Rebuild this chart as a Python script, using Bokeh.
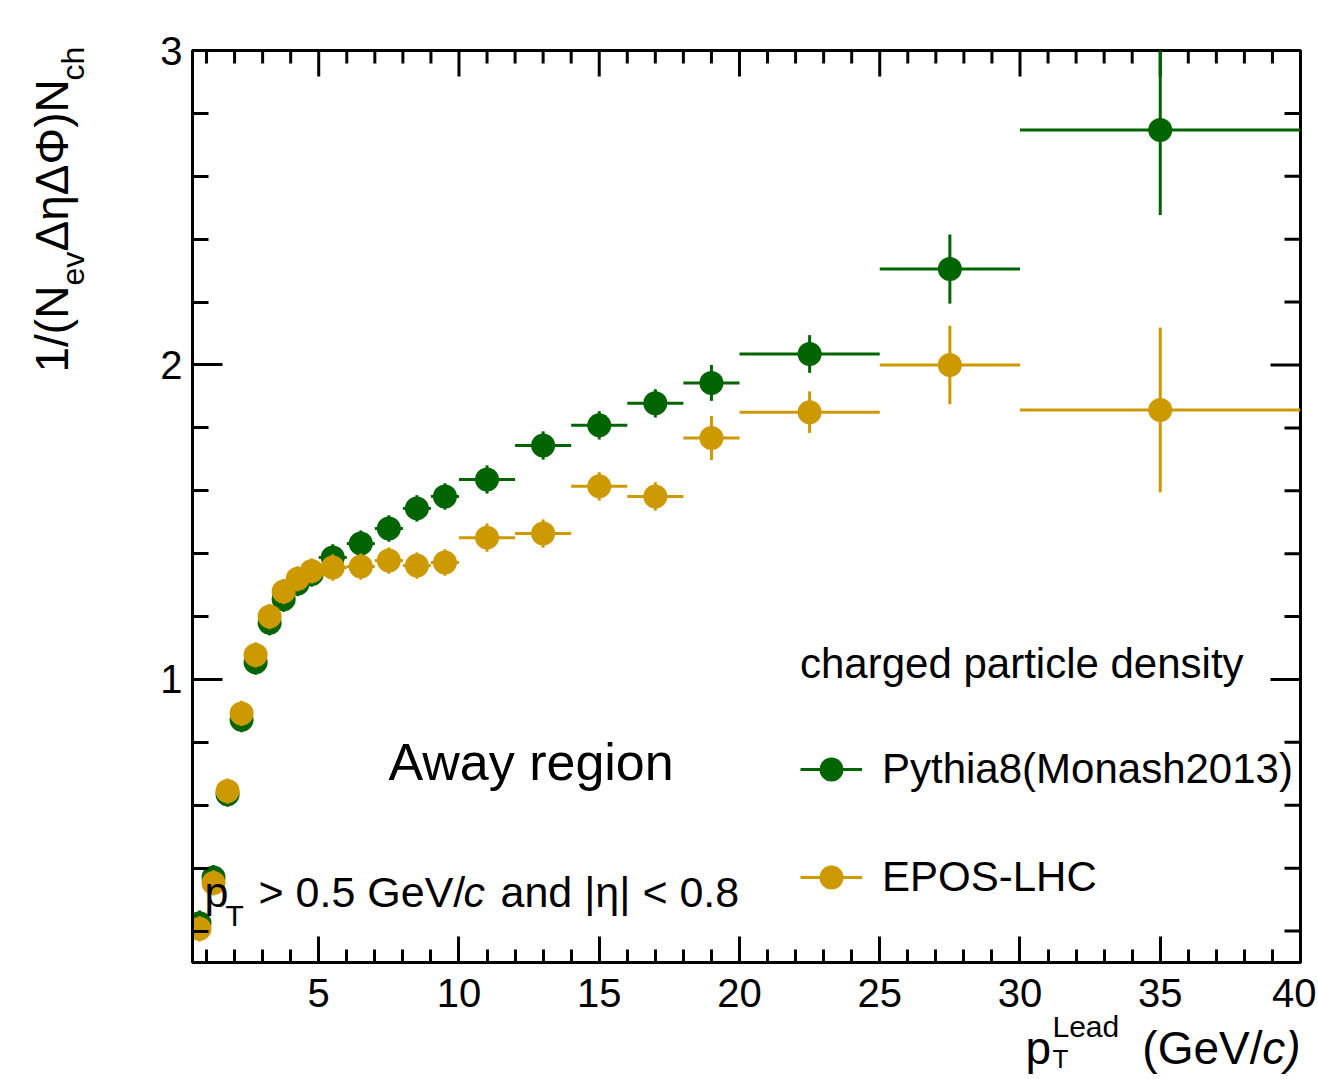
from math import pi
from bokeh.plotting import figure
from bokeh.models import (Range1d, FixedTicker, LinearAxis, Label, ColumnDataSource,
                          Legend, LegendItem)
from bokeh.embed import file_html
from bokeh.resources import INLINE

# ---------------- data ----------------
bin_lo = [0.5, 1.0, 1.5, 2.0, 2.5, 3.0, 3.5, 4.0, 4.5, 5, 6, 7, 8, 9, 10, 12, 14, 16, 18, 20, 25, 30]
bin_hi = [1.0, 1.5, 2.0, 2.5, 3.0, 3.5, 4.0, 4.5, 5.0, 6, 7, 8, 9, 10, 12, 14, 16, 18, 20, 25, 30, 40]
pythia_val = [0.225, 0.37, 0.635, 0.872, 1.055, 1.18, 1.255, 1.305, 1.335, 1.388, 1.432, 1.48, 1.544,
              1.582, 1.636, 1.744, 1.808, 1.878, 1.943, 2.035, 2.305, 2.747]
pythia_err = [0.04, 0.04, 0.04, 0.04, 0.04, 0.04, 0.04, 0.04, 0.04, 0.042, 0.042, 0.042, 0.042,
              0.042, 0.045, 0.045, 0.045, 0.045, 0.057, 0.06, 0.11, 0.27]
epos_val = [0.207, 0.353, 0.645, 0.892, 1.078, 1.20, 1.28, 1.32, 1.345, 1.356, 1.359, 1.378, 1.362,
            1.372, 1.451, 1.464, 1.614, 1.582, 1.768, 1.85, 2.0, 1.857]
epos_err = [0.04, 0.04, 0.04, 0.04, 0.04, 0.04, 0.04, 0.04, 0.04, 0.042, 0.042, 0.042, 0.042,
            0.042, 0.045, 0.045, 0.045, 0.045, 0.07, 0.066, 0.125, 0.262]

x_ticks = [5, 10, 15, 20, 25, 30, 35, 40]
x_minor = [i for i in range(1, 40) if i % 5]
y_ticks = [1, 2, 3]
y_minor = [round(0.2 * i, 1) for i in range(1, 15) if i % 5]
x_min, x_max = 0.5, 40.0
y_min, y_max = 0.1, 3.0

GREEN = "#006400"
GOLD = "#cc9900"
FONT = "Liberation Sans"

# ---------------- layout (page pixels) ----------------
FL, FT, FW, FH = 192, 50, 1108, 912
FB = FT + FH
BASE_FIX = 19  # empirical correction for label baseline placement

p = figure(frame_width=FW, frame_height=FH,
           min_border_left=FL, min_border_right=16, min_border_top=FT, min_border_bottom=117,
           x_range=Range1d(x_min, x_max), y_range=Range1d(y_min, y_max),
           output_backend="svg", toolbar_location=None,
           x_axis_location=None, y_axis_location=None,
           background_fill_color="white", border_fill_color="white")
p.outline_line_color = "black"
p.outline_line_width = 3
p.xgrid.visible = False
p.ygrid.visible = False

xt = FixedTicker(ticks=x_ticks, minor_ticks=x_minor)
yt = FixedTicker(ticks=y_ticks, minor_ticks=y_minor)


def style_axis(ax, major, minor):
    ax.axis_line_width = 3
    ax.axis_line_color = "black"
    ax.major_tick_line_width = 3
    ax.minor_tick_line_width = 3
    ax.major_tick_in = major
    ax.major_tick_out = 0
    ax.minor_tick_in = minor
    ax.minor_tick_out = 0
    ax.major_label_text_font = FONT
    ax.major_label_text_font_size = "40px"
    ax.major_label_text_color = "black"


bx = LinearAxis(ticker=xt)
style_axis(bx, 26, 13)
bx.major_label_standoff = 16
p.add_layout(bx, "below")
ly = LinearAxis(ticker=yt)
style_axis(ly, 30, 16)
ly.major_label_standoff = 10
p.add_layout(ly, "left")

# ticks on top and right edges (no labels)
p.ray(x=x_ticks, y=[y_max] * len(x_ticks), length=26, length_units="screen",
      angle=-pi / 2, line_color="black", line_width=3)
p.ray(x=x_minor, y=[y_max] * len(x_minor), length=13, length_units="screen",
      angle=-pi / 2, line_color="black", line_width=3)
p.ray(x=[x_max] * len(y_ticks), y=y_ticks, length=30, length_units="screen",
      angle=pi, line_color="black", line_width=3)
p.ray(x=[x_max] * len(y_minor), y=y_minor, length=16, length_units="screen",
      angle=pi, line_color="black", line_width=3)


def series(vals, errs, color):
    xc = [(a + b) / 2 for a, b in zip(bin_lo, bin_hi)]
    src = ColumnDataSource(dict(x=xc, y=vals, lo=bin_lo, hi=bin_hi,
                                ylo=[v - e for v, e in zip(vals, errs)],
                                yhi=[v + e for v, e in zip(vals, errs)]))
    h = p.segment(x0="lo", x1="hi", y0="y", y1="y", source=src, line_color=color, line_width=3)
    p.segment(x0="x", x1="x", y0="ylo", y1="yhi", source=src, line_color=color, line_width=3)
    m = p.scatter(x="x", y="y", source=src, size=24, marker="circle", fill_color=color,
                  line_color=color, line_width=0)
    return h, m


gh, gm = series(pythia_val, pythia_err, GREEN)
eh, em = series(epos_val, epos_err, GOLD)

legend = Legend(items=[LegendItem(label="Pythia8(Monash2013)", renderers=[gh, gm]),
                       LegendItem(label="EPOS-LHC", renderers=[eh, em])],
                title="charged particle density",
                location=(800 - FL, FB - 907),
                orientation="vertical",
                border_line_color=None, background_fill_alpha=0,
                padding=0, margin=0, spacing=48,
                glyph_width=62, glyph_height=60, label_height=60, label_standoff=20,
                label_text_font=FONT, label_text_font_size="42px", label_text_color="black",
                title_text_font=FONT, title_text_font_size="42px", title_text_color="black",
                title_text_font_style="normal", title_standoff=51)
p.add_layout(legend)


def lab(px, py, text, size, style="normal", align="left"):
    # text inside the plotting frame
    p.add_layout(Label(x=px - FL, y=FB - py + BASE_FIX, x_units="screen", y_units="screen",
                       text=text, text_font=FONT,
                       text_font_size=f"{size}px", text_font_style=style,
                       text_color="black", text_align=align,
                       text_baseline="alphabetic"))


def ytitle_lab(bx_, sy_, text, size):
    # rotated y-axis title piece: baseline at canvas x=bx_, text starts at canvas y=sy_ going up
    p.add_layout(Label(x=bx_ - BASE_FIX, y=sy_, x_units="canvas", y_units="canvas",
                       text=text, text_font=FONT, text_font_size=f"{size}px",
                       text_color="black", angle=pi / 2, text_align="left",
                       text_baseline="alphabetic"), "below")


def xtitle_lab(px, base, text, size, style="normal", align="left"):
    # x-axis title piece: baseline at canvas y=base
    p.add_layout(Label(x=px, y=base - BASE_FIX, x_units="canvas", y_units="canvas",
                       text=text, text_font=FONT, text_font_size=f"{size}px",
                       text_font_style=style, text_color="black",
                       text_align=align, text_baseline="alphabetic"), "below")


# Away region
lab(388, 780, "Away region", 52)

# pT > 0.5 GeV/c and |eta| < 0.8
lab(204, 910, "p", 43)
lab(225, 934, "T", 30)
lab(258, 910, "> 0.5 GeV/", 43)
lab(463, 910, "c", 43, "italic")
lab(500, 910, "and |η| < 0.8", 43)

# y axis title (rotated)
ytitle_lab(70, 372, "1/(N", 46)
ytitle_lab(91, 285, "ev", 32)
ytitle_lab(70, 251, "ΔηΔΦ)N", 46)
ytitle_lab(91, 80, "ch", 32)

# x axis title
xtitle_lab(1025, 1066, "p", 46)
xtitle_lab(1052, 1045, "Lead", 30)
xtitle_lab(1052, 1077, "T", 26)
xtitle_lab(1262, 1066, "(GeV/", 46, align="right")
xtitle_lab(1300, 1066, "c)", 46, "italic", align="right")

open("out.html", "w").write(file_html(p, INLINE))
